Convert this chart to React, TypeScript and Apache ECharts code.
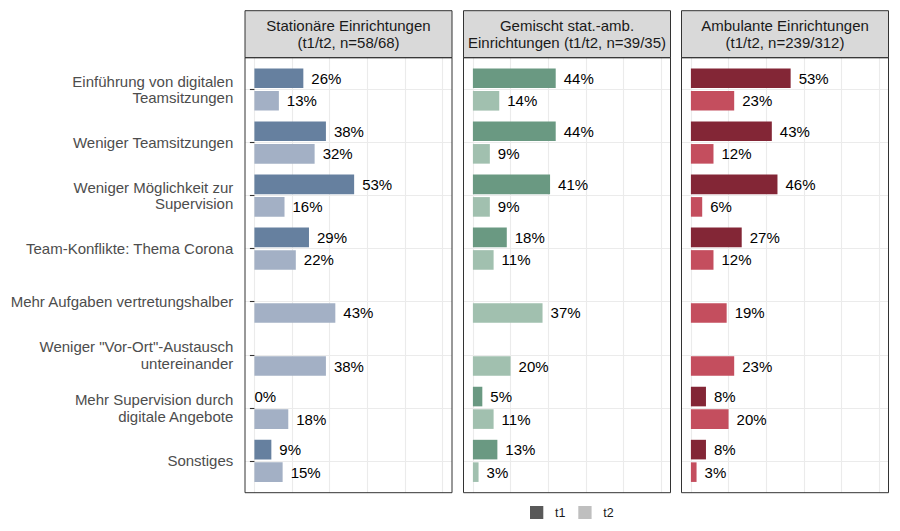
import React, { useEffect, useRef } from "react";
import * as echarts from "echarts";

const categories = [
  "Einführung von digitalen\nTeamsitzungen",
  "Weniger Teamsitzungen",
  "Weniger Möglichkeit zur\nSupervision",
  "Team-Konflikte: Thema Corona",
  "Mehr Aufgaben vertretungshalber",
  'Weniger "Vor-Ort"-Austausch\nuntereinander',
  "Mehr Supervision durch\ndigitale Angebote",
  "Sonstiges",
];

const panelTitles = [
  "Stationäre Einrichtungen\n(t1/t2, n=58/68)",
  "Gemischt stat.-amb.\nEinrichtungen (t1/t2, n=39/35)",
  "Ambulante Einrichtungen\n(t1/t2, n=239/312)",
];

const stationaerT1 = [26, 38, 53, 29, null, null, 0, 9];
const stationaerT2 = [13, 32, 16, 22, 43, 38, 18, 15];
const gemischtT1 = [44, 44, 41, 18, null, null, 5, 13];
const gemischtT2 = [14, 9, 9, 11, 37, 20, 11, 3];
const ambulantT1 = [53, 43, 46, 27, null, null, 8, 8];
const ambulantT2 = [23, 12, 6, 12, 19, 23, 20, 3];

const seriesNames = ["t1", "t2"];
const xTicks = [0, 20, 40, 60, 80, 100];

const panelData = [
  [stationaerT1, stationaerT2],
  [gemischtT1, gemischtT2],
  [ambulantT1, ambulantT2],
];
const panelColors = [
  ["#66809f", "#a3b0c5"],
  ["#6a9982", "#a1c0af"],
  ["#832636", "#c44e5e"],
];

const FONT = "'Liberation Sans', Arial, sans-serif";
const FS = 15;

export default function App() {
  const ref = useRef<HTMLDivElement>(null);

  useEffect(() => {
    if (!ref.current) return;
    const chart = echarts.init(ref.current, null, { renderer: "svg" });

    const panelLefts = [245, 463.5, 681.5];
    const panelW = 207;
    const stripTop = 10.7;
    const panelTop = 57.7;
    const panelBottom = 492.7;
    const panelH = panelBottom - panelTop;
    const unit = panelH / 8.2;
    const innerOffset = (panelW / 1.1) * 0.05;
    const innerW = panelW / 1.1;

    const grid: any[] = [];
    const xAxis: any[] = [];
    const yAxis: any[] = [];
    const series: any[] = [];
    const graphic: any[] = [];

    panelLefts.forEach((L, i) => {
      // grid A: vertical gridlines over the full panel height
      grid.push({ left: L + innerOffset, top: panelTop, width: innerW, height: panelH, containLabel: false });
      // grid C: bars, category centres
      grid.push({ left: L, top: panelTop + 0.6 * unit, width: panelW, height: 7 * unit, containLabel: false });

      xAxis.push({
        gridIndex: 2 * i,
        type: "value",
        min: xTicks[0],
        max: xTicks[xTicks.length - 1],
        interval: 20,
        axisLabel: { show: false },
        axisTick: { show: false },
        axisLine: { show: false },
        splitLine: { show: true, lineStyle: { color: "#ebebeb", width: 1.1 } },
      });
      yAxis.push({ gridIndex: 2 * i, type: "value", min: 0, max: 1, show: false });

      xAxis.push({ gridIndex: 2 * i + 1, type: "value", min: -5, max: 105, show: false });
      yAxis.push({
        gridIndex: 2 * i + 1,
        type: "category",
        inverse: true,
        boundaryGap: false,
        data: categories,
        axisLine: { show: false },
        axisTick: { show: i === 0, length: 4.5, lineStyle: { color: "#333333", width: 1.1 } },
        axisLabel: {
          show: i === 0,
          color: "#4d4d4d",
          fontSize: FS,
          fontFamily: FONT,
          lineHeight: 16.5,
          margin: 11.7,
          align: "right",
        },
        splitLine: { show: true, lineStyle: { color: "#ebebeb", width: 1.1 } },
      });

      panelData[i].forEach((vals, s) => {
        series.push({
          type: "bar",
          name: seriesNames[s],
          xAxisIndex: 2 * i + 1,
          yAxisIndex: 2 * i + 1,
          data: vals.map((v) => (v === 0 ? { value: v, label: { distance: 0 } } : v)),
          barWidth: 19.6,
          barGap: "15%",
          clip: false,
          itemStyle: { color: panelColors[i][s] },
          label: {
            show: true,
            position: "right",
            distance: 8,
            color: "#000000",
            fontSize: FS,
            fontFamily: FONT,
            formatter: (p: any) => p.value + "%",
          },
        });
      });

      // strip
      graphic.push({
        type: "rect",
        z: 100,
        shape: { x: L, y: stripTop, width: panelW, height: panelTop - stripTop },
        style: { fill: "#d9d9d9", stroke: "#333333", lineWidth: 1 },
      });
      graphic.push({
        type: "text",
        z: 101,
        x: L + panelW / 2,
        y: (stripTop + panelTop) / 2,
        style: {
          text: panelTitles[i],
          fill: "#1a1a1a",
          fontSize: FS,
          fontFamily: FONT,
          lineHeight: 16.5,
          align: "center",
          verticalAlign: "middle",
          textAlign: "center",
          textVerticalAlign: "middle",
        },
      });
      // panel border
      graphic.push({
        type: "rect",
        z: 100,
        shape: { x: L, y: panelTop, width: panelW, height: panelH },
        style: { fill: "none", stroke: "#333333", lineWidth: 1 },
      });
    });

    // legend
    const legendItems = [
      { label: seriesNames[0], color: "#595959", x: 530 },
      { label: seriesNames[1], color: "#bfbfbf", x: 578.3 },
    ];
    legendItems.forEach((it) => {
      graphic.push({
        type: "rect",
        z: 100,
        shape: { x: it.x, y: 506, width: 13.3, height: 13 },
        style: { fill: it.color },
      });
      graphic.push({
        type: "text",
        z: 100,
        x: it.x + 25,
        y: 512.5,
        style: {
          text: it.label,
          fill: "#1a1a1a",
          fontSize: 12.5,
          fontFamily: FONT,
          align: "left",
          verticalAlign: "middle",
          textAlign: "left",
          textVerticalAlign: "middle",
        },
      });
    });

    chart.setOption({
      animation: false,
      backgroundColor: "#ffffff",
      textStyle: { fontFamily: FONT },
      grid,
      xAxis,
      yAxis,
      series,
      graphic,
    });

    return () => chart.dispose();
  }, []);

  return (
    <div
      ref={ref}
      style={{ position: "fixed", left: 0, top: 0, width: 900, height: 531 }}
    />
  );
}
